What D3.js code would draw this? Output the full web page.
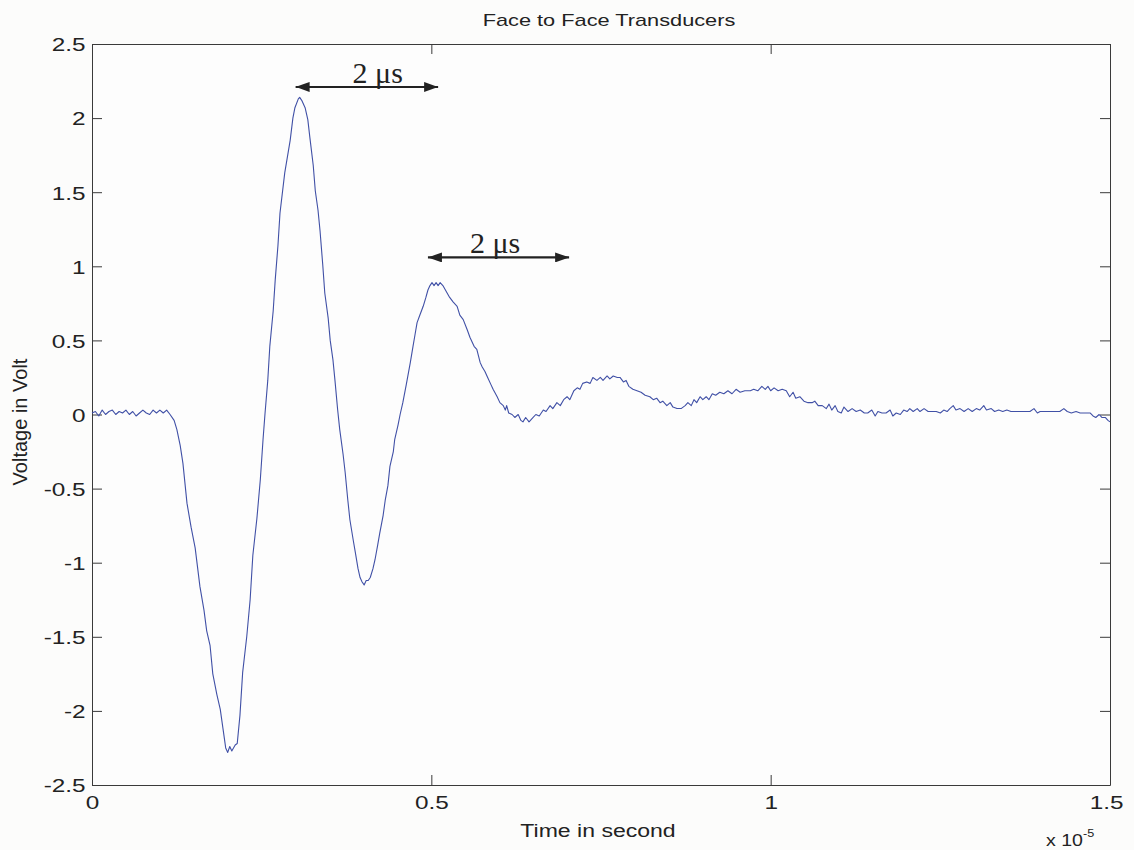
<!DOCTYPE html>
<html><head><meta charset="utf-8">
<script src="https://cdn.jsdelivr.net/npm/d3@7"></script>
<style>
html,body{margin:0;padding:0;background:#fcfcfb;}
svg{display:block;}
</style></head>
<body>
<svg id="chart" width="1134" height="850"></svg>
<script>
// time in units of 1e-5 s
const timeData = [
0,.005,.01,.015,.02,.025,.03,.035,.04,.045,.05,.055,.06,.065,.07,.075,.08,.085,.09,.095,.10,.105,.11,
0.115,0.121,0.125,0.130,0.134,0.140,0.146,0.152,0.159,0.165,0.169,0.174,0.178,0.184,0.189,0.193,0.197,0.200,0.203,0.206,0.211,0.214,
0.218,0.222,0.228,0.233,0.237,0.243,0.248,0.252,0.255,0.259,0.262,0.267,0.270,0.274,0.277,0.284,0.292,0.296,0.299,0.304,0.306,0.309,
0.314,0.318,0.321,0.326,0.329,0.333,0.336,0.340,0.343,0.348,0.351,0.355,0.358,0.362,0.365,0.370,0.373,0.377,0.380,0.385,0.388,0.392,
0.395,0.398,0.401,0.404,0.407,0.410,0.414,0.417,0.421,0.424,0.429,0.432,0.436,0.439,0.444,0.446,0.451,0.454,0.458,0.463,0.469,0.473,
0.476,0.479,0.483,0.488,0.492,0.495,0.498,0.501,0.504,0.507,0.510,0.513,0.517,0.522,0.527,0.532,0.538,0.542,0.547,0.553,0.557,0.563,
0.567,0.572,0.575,0.579,0.583,0.588,0.591,0.597,0.601,0.606,0.609,0.611,0.614,0.619,0.623,0.628,0.632,0.635,0.639,0.644,0.650,0.654,
0.659,0.665,0.669,0.675,0.679,0.685,0.690,0.695,0.700,0.704,0.710,0.715,0.719,0.723,0.729,0.734,0.738,0.744,0.749,0.753,0.759,0.763,
0.768,0.774,0.778,0.783,0.787,0.791,0.797,0.803,0.809,0.815,0.822,0.827,0.832,0.837,0.841,0.847,0.852,0.856,0.862,0.868,0.874,0.878,
0.883,0.887,0.891,0.896,0.900,0.905,0.909,0.914,0.919,0.925,0.931,0.937,0.943,0.949,0.955,0.962,0.970,0.975,0.981,0.987,0.992,0.996,
1.000,1.005,1.011,1.017,1.023,1.028,1.033,1.037,1.043,1.049,1.055,1.061,1.065,1.070,1.076,1.082,1.086,1.090,1.095,1.099,1.104,1.108,
1.114,1.120,1.126,1.132,1.138,1.143,1.149,1.154,1.158,1.164,1.170,1.176,1.180,1.185,1.191,1.196,1.201,1.205,1.210,1.216,1.220,1.226,
1.232,1.238,1.244,1.250,1.255,1.260,1.264,1.269,1.273,1.279,1.285,1.291,1.297,1.303,1.308,1.314,1.318,1.325,1.330,1.336,1.342,1.348,
1.354,1.360,1.367,1.375,1.382,1.388,1.393,1.397,1.404,1.412,1.419,1.426,1.432,1.437,1.443,1.450,1.456,1.463,1.471,1.475,1.479,1.484,
1.488,1.493,1.497,1.500
];
// voltage in Volt
const voltageData = [
0.01,0.02,-0.01,0.03,0.0,0.02,0.03,0.0,0.02,0.01,0.03,0.0,0.02,-0.01,0.01,0.03,0.01,0.0,0.03,0.01,0.03,0.01,0.03,
0.00,-0.04,-0.10,-0.21,-0.33,-0.60,-0.76,-0.90,-1.16,-1.32,-1.46,-1.56,-1.75,-1.89,-1.99,-2.12,-2.25,-2.28,-2.24,-2.27,-2.23,-2.22,
-2.03,-1.74,-1.50,-1.25,-0.95,-0.70,-0.44,-0.17,0.01,0.23,0.46,0.70,0.91,1.14,1.36,1.63,1.85,2.00,2.07,2.13,2.14,2.12,
2.07,1.99,1.87,1.68,1.51,1.38,1.24,1.01,0.82,0.65,0.50,0.37,0.23,0.03,-0.10,-0.27,-0.39,-0.58,-0.71,-0.85,-0.93,-1.04,
-1.10,-1.13,-1.15,-1.12,-1.12,-1.10,-1.04,-0.98,-0.88,-0.80,-0.68,-0.58,-0.48,-0.35,-0.25,-0.17,-0.07,0.00,0.08,0.20,0.35,0.46,
0.54,0.62,0.67,0.73,0.79,0.84,0.87,0.89,0.87,0.89,0.87,0.89,0.87,0.83,0.79,0.76,0.73,0.67,0.64,0.57,0.52,0.46,
0.44,0.35,0.32,0.29,0.25,0.20,0.17,0.12,0.08,0.06,0.03,0.06,0.01,0.00,-0.02,0.00,-0.04,-0.05,-0.02,-0.05,-0.02,0.00,
-0.01,0.03,0.02,0.06,0.04,0.08,0.06,0.10,0.12,0.10,0.16,0.18,0.17,0.21,0.22,0.21,0.25,0.23,0.25,0.23,0.26,0.24,
0.26,0.25,0.25,0.22,0.23,0.19,0.17,0.16,0.15,0.13,0.12,0.10,0.11,0.08,0.09,0.06,0.08,0.05,0.04,0.04,0.06,0.08,
0.06,0.10,0.08,0.12,0.10,0.12,0.10,0.14,0.13,0.15,0.14,0.16,0.14,0.17,0.15,0.16,0.16,0.17,0.16,0.19,0.17,0.19,
0.16,0.18,0.16,0.17,0.16,0.12,0.15,0.11,0.12,0.09,0.08,0.08,0.09,0.06,0.06,0.04,0.07,0.03,0.06,0.02,0.01,0.05,
0.02,0.04,0.02,0.03,0.01,0.01,0.03,-0.01,0.02,0.01,0.01,0.03,-0.01,0.01,0.00,0.03,0.02,0.04,0.02,0.04,0.02,0.04,
0.02,0.02,0.02,0.01,0.03,0.02,0.04,0.06,0.03,0.04,0.02,0.04,0.02,0.04,0.03,0.06,0.03,0.04,0.02,0.03,0.02,0.03,
0.02,0.02,0.02,0.02,0.02,0.04,0.01,0.02,0.02,0.02,0.02,0.02,0.04,0.02,0.01,0.02,0.01,0.01,0.01,-0.01,-0.02,0.00,
-0.02,-0.02,-0.04,-0.05
];
const xTicks = [0, 0.5, 1, 1.5];
const xTickLabels = ["0", "0.5", "1", "1.5"];
const yTicks = [-2.5, -2, -1.5, -1, -0.5, 0, 0.5, 1, 1.5, 2, 2.5];
const yTickLabels = ["-2.5", "-2", "-1.5", "-1", "-0.5", "0", "0.5", "1", "1.5", "2", "2.5"];
// annotations: arrow start, end (time units), level (V), label position and text
const arrowStart = [0.30, 0.495];
const arrowEnd = [0.51, 0.703];
const arrowLevel = [2.21, 1.06];
const labelTime = [0.421, 0.594];
const arrowLabels = ["2 \u03bcs", "2 \u03bcs"];

const svg = d3.select("#chart");
const L = 92, R = 1110, T = 44, B = 785;
const x = d3.scaleLinear().domain([0, 1.5]).range([L, R]);
const y = d3.scaleLinear().domain([-2.5, 2.5]).range([B, T]);
const SX = 1.28; // horizontal stretch of the scanned text

const defs = svg.append("defs");
defs.append("marker").attr("id", "ah").attr("viewBox", "0 0 14 10")
  .attr("refX", 14).attr("refY", 5).attr("markerWidth", 14).attr("markerHeight", 10)
  .attr("markerUnits", "userSpaceOnUse").attr("orient", "auto-start-reverse")
  .append("path").attr("d", "M0,0 L14,5 L0,10 Z").attr("fill", "#222");

const axisColor = "#3a3a3a";
const fontSans = "'Liberation Sans', Arial, sans-serif";
const fontSerif = "'Liberation Serif', 'Times New Roman', 'DejaVu Serif', serif";

svg.append("rect").attr("x", L).attr("y", T).attr("width", R - L).attr("height", B - T)
  .attr("fill", "#fdfdfd");

// axes (inward ticks, MATLAB style)
const tickLen = 10;
const gB = svg.append("g").attr("transform", `translate(0,${B})`)
  .call(d3.axisBottom(x).tickValues(xTicks).tickSizeInner(-tickLen).tickSizeOuter(0)
    .tickPadding(11).tickFormat((d, i) => xTickLabels[i]));
const gT = svg.append("g").attr("transform", `translate(0,${T})`)
  .call(d3.axisTop(x).tickValues(xTicks).tickSizeInner(-tickLen).tickSizeOuter(0).tickFormat(""));
const gL = svg.append("g").attr("transform", `translate(${L},0)`)
  .call(d3.axisLeft(y).tickValues(yTicks).tickSizeInner(-tickLen).tickSizeOuter(0)
    .tickPadding(5).tickFormat((d, i) => yTickLabels[i]));
const gR = svg.append("g").attr("transform", `translate(${R},0)`)
  .call(d3.axisRight(y).tickValues(yTicks).tickSizeInner(-tickLen).tickSizeOuter(0).tickFormat(""));
[gB, gT, gL, gR].forEach(g => {
  g.selectAll("path").attr("stroke", axisColor).attr("stroke-width", 1);
  g.selectAll("line").attr("stroke", axisColor).attr("stroke-width", 1);
  g.selectAll("text").attr("fill", "#222").style("font-family", fontSans).style("font-size", "19px")
    .attr("transform", `scale(${SX},1)`);
});
gL.selectAll("text").attr("dy", "0.36em");
gB.selectAll("text").filter((d) => d === 1.5).attr("x", -3);

// signal line
const pts = timeData.map((t, i) => [t, voltageData[i]]);
svg.append("path").datum(pts)
  .attr("fill", "none").attr("stroke", "#4050a6").attr("stroke-width", 1.1)
  .attr("stroke-linejoin", "round")
  .attr("d", d3.line().x(d => x(d[0])).y(d => y(d[1])));

// annotations
arrowStart.forEach((s, i) => {
  svg.append("line")
    .attr("x1", x(s)).attr("x2", x(arrowEnd[i]))
    .attr("y1", y(arrowLevel[i])).attr("y2", y(arrowLevel[i]))
    .attr("stroke", "#222").attr("stroke-width", 2.2)
    .attr("marker-start", "url(#ah)").attr("marker-end", "url(#ah)");
  svg.append("text")
    .attr("x", x(labelTime[i]))
    .attr("y", y(arrowLevel[i]) - 4)
    .attr("text-anchor", "middle")
    .style("font-family", fontSerif)
    .style("font-size", "30px").attr("fill", "#222")
    .text(arrowLabels[i]);
});

// title and labels
svg.append("text").attr("transform", `translate(609,26) scale(${SX},1)`).attr("text-anchor", "middle")
  .style("font-family", fontSans).style("font-size", "17px").attr("fill", "#222")
  .text("Face to Face Transducers");
svg.append("text").attr("transform", `translate(598,837) scale(${SX},1)`).attr("text-anchor", "middle")
  .style("font-family", fontSans).style("font-size", "18px").attr("fill", "#222")
  .text("Time in second");
svg.append("text").attr("transform", "translate(27,422) rotate(-90)").attr("text-anchor", "middle")
  .style("font-family", fontSans).style("font-size", "20px").attr("fill", "#222")
  .text("Voltage in Volt");
const ex = svg.append("text").attr("transform", "translate(1046,846) scale(1.15,1)")
  .style("font-family", fontSans).style("font-size", "17px").attr("fill", "#222");
ex.append("tspan").text("x 10");
ex.append("tspan").attr("dy", -9).style("font-size", "11px").text("-5");
</script>
</body></html>
